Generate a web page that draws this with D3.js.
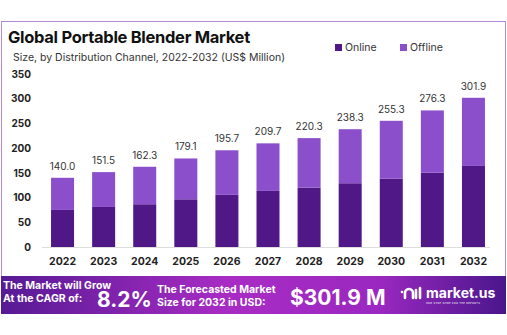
<!DOCTYPE html>
<html>
<head>
<meta charset="utf-8">
<script src="https://cdn.jsdelivr.net/npm/d3@7"></script>
<style>
  body { margin: 0; background: #fff; }
  svg { display: block; font-family: Inter, "Open Sans", sans-serif; }
</style>
</head>
<body>
<svg id="chart" width="507" height="335"></svg>
<script>
// data
const years = ["2022", "2023", "2024", "2025", "2026", "2027", "2028", "2029", "2030", "2031", "2032"];
const totals = [140.0, 151.5, 162.3, 179.1, 195.7, 209.7, 220.3, 238.3, 255.3, 276.3, 301.9];
const online = [75, 81, 86.5, 96.5, 105.5, 113.5, 120, 129, 138.5, 150.5, 164];
const offline = totals.map((t, i) => +(t - online[i]).toFixed(1));
const yTicks = [0, 50, 100, 150, 200, 250, 300, 350];
const seriesNames = ["Online", "Offline"];
const colors = { Online: "#501886", Offline: "#8b4fcb" };

const svg = d3.select("#chart");

// frame
svg.append("rect")
  .attr("x", 1.5).attr("y", 21.5)
  .attr("width", 504).attr("height", 292)
  .attr("fill", "#fff")
  .attr("stroke", "#b48ad8").attr("stroke-width", 1);

// titles
svg.append("text").attr("x", 8).attr("y", 43)
  .attr("font-size", 16.5).attr("font-weight", 700).attr("fill", "#111")
  .attr("letter-spacing", -0.3)
  .text("Global Portable Blender Market");
svg.append("text").attr("x", 13).attr("y", 61)
  .attr("font-size", 10.5).attr("fill", "#333")
  .text("Size, by Distribution Channel, 2022-2032 (US$ Million)");

// legend
const legend = svg.append("g").attr("transform", "translate(335,44)");
seriesNames.forEach((name, i) => {
  const g = legend.append("g").attr("transform", `translate(${i * 65},0)`);
  g.append("rect").attr("width", 7).attr("height", 7).attr("fill", colors[name]);
  g.append("text").attr("x", 10).attr("y", 7).attr("font-size", 10.5).attr("fill", "#333").text(name);
});

// scales
const x = d3.scaleBand().domain(years).range([42, 494]).paddingInner(0.44).paddingOuter(0.22);
const y = d3.scaleLinear().domain([0, 350]).range([247, 74]);

// y axis
const yAxis = svg.append("g").attr("transform", "translate(31,0)")
  .call(d3.axisLeft(y).tickValues(yTicks).tickSize(0).tickPadding(0));
yAxis.select(".domain").remove();
yAxis.selectAll("text").attr("font-size", 10).attr("font-weight", 700).attr("fill", "#222")
  .attr("font-family", "Inter, sans-serif");

// baseline
svg.append("line").attr("x1", 42).attr("x2", 490).attr("y1", y(0) + 0.5).attr("y2", y(0) + 0.5)
  .attr("stroke", "#ddd");

// stacked bars
const rows = years.map((yr, i) => ({ year: yr, Online: online[i], Offline: offline[i] }));
const stack = d3.stack().keys(seriesNames)(rows);
svg.append("g").selectAll("g").data(stack).join("g")
  .attr("fill", d => colors[d.key])
  .selectAll("rect").data(d => d).join("rect")
  .attr("x", d => x(d.data.year))
  .attr("y", d => y(d[1]))
  .attr("width", x.bandwidth())
  .attr("height", d => y(d[0]) - y(d[1]));

// total labels
svg.append("g").selectAll("text").data(years).join("text")
  .attr("x", d => x(d) + x.bandwidth() / 2)
  .attr("y", (d, i) => y(totals[i]) - 8)
  .attr("text-anchor", "middle").attr("font-size", 10).attr("fill", "#333")
  .text((d, i) => totals[i].toFixed(1));

// x axis
const xAxis = svg.append("g").attr("transform", `translate(0,${y(0) + 7})`)
  .call(d3.axisBottom(x).tickSize(0).tickPadding(4));
xAxis.select(".domain").remove();
xAxis.selectAll("text").attr("font-size", 10.5).attr("font-weight", 700).attr("fill", "#222")
  .attr("font-family", "Inter, sans-serif");

// banner
const defs = svg.append("defs");
const grad = defs.append("linearGradient").attr("id", "bannerGrad");
grad.append("stop").attr("offset", "0%").attr("stop-color", "#571a94");
grad.append("stop").attr("offset", "45%").attr("stop-color", "#a82cc4");
grad.append("stop").attr("offset", "75%").attr("stop-color", "#9a28c0");
grad.append("stop").attr("offset", "100%").attr("stop-color", "#4a168c");
svg.append("rect").attr("x", 1).attr("y", 276).attr("width", 505).attr("height", 38)
  .attr("fill", "url(#bannerGrad)");

const banner = svg.append("g").attr("fill", "#fff").attr("font-weight", 700);
banner.append("text").attr("x", 3).attr("y", 289).attr("font-size", 10.5).text("The Market will Grow");
banner.append("text").attr("x", 3).attr("y", 302).attr("font-size", 10.5).text("At the CAGR of:");
banner.append("text").attr("x", 97).attr("y", 307).attr("font-size", 21).text("8.2%");
banner.append("text").attr("x", 157).attr("y", 293).attr("font-size", 10.5).text("The Forecasted Market");
banner.append("text").attr("x", 157).attr("y", 306).attr("font-size", 10.5).text("Size for 2032 in USD:");
banner.append("text").attr("x", 290).attr("y", 305).attr("font-size", 21).text("$301.9 M");

// logo
const logo = banner.append("g").attr("transform", "translate(402,286)");
logo.append("path").attr("d", "M3,12 v-5 a4,4 0 0 1 8,0 v5 M14,4 v8 M18,2 v10")
  .attr("fill", "none").attr("stroke", "#fff").attr("stroke-width", 2.6).attr("stroke-linecap", "round");
logo.append("circle").attr("cx", 0).attr("cy", 6).attr("r", 1.3);
logo.append("text").attr("x", 24).attr("y", 12).attr("font-size", 14).text("market.us");
logo.append("text").attr("x", 24).attr("y", 17.5).attr("font-size", 2.6).attr("font-weight", 400)
  .attr("letter-spacing", 0.3).text("ONE STOP SHOP FOR THE REPORTS");
</script>
</body>
</html>
